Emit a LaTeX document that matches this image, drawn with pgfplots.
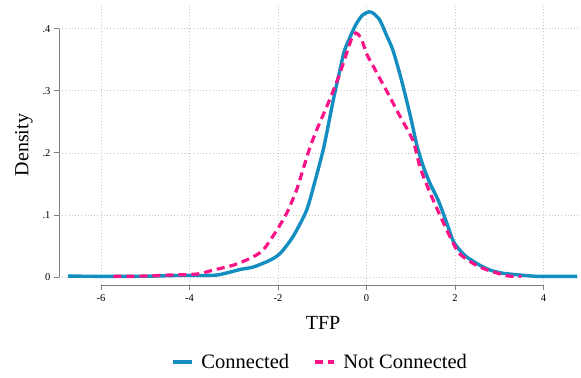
\documentclass[border=0pt]{standalone}
\usepackage{pgfplots}
\pgfplotsset{compat=1.18}
\usepackage{fontspec}
\setmainfont{Liberation Serif}
\definecolor{cblue}{RGB}{20,142,192}
\definecolor{cpink}{RGB}{250,20,135}
\begin{document}
\begin{tikzpicture}
\begin{axis}[
  scale only axis, width=522pt, height=280pt,
  xmin=-6.95, xmax=4.85, ymin=-0.013, ymax=0.438,
  axis x line*=bottom, axis y line*=left,
  axis line style={draw=none},
  clip=false,
  tick align=outside, major tick length=5pt,
  tick style={gray, line width=0.7pt},
  xtick={-6,-4,-2,0,2,4}, xticklabels={-6,-4,-2,0,2,4},
  ytick={0,0.1,0.2,0.3,0.4}, yticklabels={0,.1,.2,.3,.4},
  /pgf/number format/assume math mode=true,
  tick label style={font=\fontsize{10.5}{12}\selectfont},
  xticklabel style={yshift=-1pt},
  grid=major, major grid style={dash pattern=on 0.8pt off 2.4pt, gray!45, line width=0.6pt},
  xlabel={TFP}, ylabel={Density},
  every axis x label/.style={at={(axis description cs:0.506,-0.136)}, anchor=center, font=\fontsize{20}{24}\selectfont},
  every axis y label/.style={at={(axis description cs:-0.067,0.5)}, rotate=90, anchor=center, font=\fontsize{20}{24}\selectfont},
  legend columns=2,
  legend style={draw=none, fill=none, at={(axis description cs:0.5,-0.275)}, anchor=center,
    font=\fontsize{20.5}{24}\selectfont,
    /tikz/every odd column/.append style={column sep=6pt},
    /tikz/every even column/.append style={column sep=22pt}},
  legend image code/.code={\draw[#1] (0pt,0pt) -- (19pt,0pt);},
]
\addplot[cblue, line width=3.4pt, smooth, tension=0.4] coordinates {
(-6.75,0.0015) (-6.0,0.001) (-5.0,0.0012) (-4.2,0.0025) (-3.4,0.003)
(-2.86,0.012) (-2.56,0.016) (-2.18,0.027) (-1.95,0.038) (-1.66,0.065)
(-1.35,0.108) (-1.13,0.163) (-0.98,0.204) (-0.9,0.231) (-0.75,0.285)
(-0.6,0.333) (-0.49,0.366) (-0.25,0.405) (-0.1,0.421) (0.05,0.427)
(0.15,0.425) (0.3,0.414) (0.45,0.39) (0.6,0.365) (0.8,0.315)
(1.0,0.257) (1.14,0.212) (1.28,0.179) (1.435,0.151) (1.62,0.124) (1.8,0.09)
(1.955,0.059) (2.1,0.044) (2.27,0.032) (2.56,0.019) (2.8,0.011)
(3.08,0.006) (3.5,0.003) (3.85,0.001) (4.3,0.001) (4.76,0.001)
};
\addlegendentry{Connected}
\addplot[cpink, line width=3.2pt, dash pattern=on 8pt off 5pt, smooth, tension=0.4] coordinates {
(-5.72,0.001) (-5.0,0.0015) (-4.5,0.003) (-4.0,0.004) (-3.76,0.0055)
(-3.47,0.011) (-3.01,0.019) (-2.63,0.030) (-2.34,0.043) (-2.03,0.075)
(-1.80,0.103) (-1.58,0.14) (-1.43,0.174) (-1.28,0.208) (-1.13,0.236)
(-0.9,0.274) (-0.75,0.30) (-0.6,0.328) (-0.45,0.36) (-0.33,0.385)
(-0.24,0.393) (-0.12,0.385) (0.0,0.36) (0.15,0.34) (0.3,0.32)
(0.53,0.29) (0.68,0.269) (1.05,0.22) (1.21,0.177) (1.44,0.135)
(1.82,0.075) (2.1,0.038) (2.56,0.016) (3.17,0.002) (3.5,0.001)
};
\addlegendentry{Not Connected}
\coordinate (xa) at (axis cs:-6,-0.013);
\coordinate (xb) at (axis cs:4,-0.013);
\coordinate (ya) at (axis cs:-6.95,0);
\coordinate (yb) at (axis cs:-6.95,0.4);
\coordinate (bl) at (axis description cs:-0.113,-0.329);
\coordinate (tr) at (axis description cs:1.0,1.018);
\end{axis}
\draw[gray, line width=0.8pt] (xa) -- (xb);
\draw[gray, line width=0.8pt] (ya) -- (yb);
\pgfresetboundingbox
\useasboundingbox (bl) rectangle (tr);
\end{tikzpicture}
\end{document}
